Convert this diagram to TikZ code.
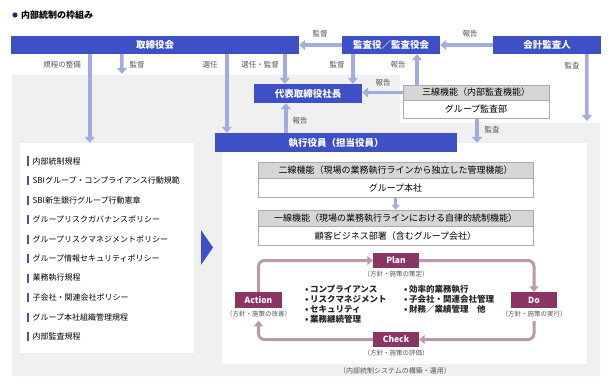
\documentclass[tikz,border=0pt]{standalone}
\usepackage{xcolor}
\usepackage{fontspec}
\setmainfont{Noto Sans CJK JP}
\usepackage{tikz}
\usetikzlibrary{arrows.meta,positioning}

\definecolor{sbiblue}{HTML}{3D50C6}
\definecolor{flowlav}{HTML}{A3ABE3}
\definecolor{bggray}{HTML}{F0F0F0}
\definecolor{headgray}{HTML}{D6D6D6}
\definecolor{pdcapurple}{HTML}{8A3563}
\definecolor{pdcaline}{HTML}{BC98A8}
\definecolor{lblgray}{HTML}{555555}
\definecolor{navy}{HTML}{1F2F70}

\newcommand{\fs}[1]{\fontsize{#1}{#1}\selectfont}

\tikzset{
  bluebox/.style={fill=sbiblue, text=white, inner sep=0pt, font=\fs{9.5}\bfseries},
  headbox/.style={fill=headgray, draw=headgray!80!black, inner sep=0pt, font=\fs{9}},
  bodybox/.style={fill=white, draw=headgray!80!black, inner sep=0pt, font=\fs{9}},
  flow/.style={draw=flowlav, line width=3.5pt, -{Triangle[width=10pt,length=6pt]}},
  lbl/.style={text=lblgray, inner sep=1pt, font=\fs{7.5}},
  pdcabox/.style={fill=pdcapurple, text=white, inner sep=0pt, minimum width=46, minimum height=15, font=\fs{8.5}\bfseries},
  pdcasub/.style={text=lblgray, inner sep=1pt, font=\fs{6.5}},
  cycle/.style={draw=pdcaline, line width=3pt, rounded corners=6pt, -{Triangle[width=9pt,length=5.5pt]}},
  ctrlitems/.style={anchor=north west, align=left, inner sep=0pt, text=black!85, font={\fontsize{8.5}{10}\selectfont\bfseries}},
}

\begin{document}
\begin{tikzpicture}[x=1pt, y=-1pt]
  \useasboundingbox (0,0) rectangle (612,390);

  % Title
  \fill[navy] (15,15) circle (2.6);
  \node[anchor=west, inner sep=0pt, font=\fs{9}\bfseries] (title) at (21,15) {内部統制の枠組み};

  % Backdrop
  \fill[bggray] (12,75) -- (400,75) -- (400,123) -- (600,123) -- (600,376) -- (12,376) -- cycle;
  \node[fill=white, minimum width=174, minimum height=210, inner sep=0pt] (rules) at (107,248) {};
  \node[fill=white, minimum width=365, minimum height=221, inner sep=0pt] (rpanel) at (404.5,253.5) {};

  % Top row
  \node[bluebox, minimum width=288, minimum height=18] (board) at (155,45) {取締役会};
  \node[bluebox, minimum width=98, minimum height=18] (kansa) at (391,45) {監査役／監査役会};
  \node[bluebox, minimum width=108, minimum height=18] (kaikei) at (547,45) {会計監査人};
  \node[bluebox, minimum width=108, minimum height=19] (daihyo) at (308,93.5) {代表取締役社長};
  \node[headbox, minimum width=146, minimum height=15] (sanHead) at (476,92.5) {三線機能（内部監査機能）};
  \node[bodybox, minimum width=146, minimum height=18, anchor=north] (sanBody) at (sanHead.south) {グループ監査部};
  \node[bluebox, minimum width=242, minimum height=19] (shikko) at (336,142.5) {執行役員（担当役員）};

  % Arrows of the top section
  \coordinate (supv) at (122,74);
  \coordinate (audEnd) at (587,121);
  \draw[flow] (kaikei.west) -- (kansa.east);
  \draw[flow] (kansa.west) -- (board.east);
  \draw[flow] ([xshift=79]board.south west) -- ([xshift=70]rules.north west);
  \draw[flow] ([xshift=111]board.south west) -- (supv);
  \draw[flow] ([xshift=216]board.south west) -- ([xshift=12]shikko.north west);
  \draw[flow] ([xshift=274]board.south west) -- ([xshift=274]board.south west |- daihyo.north);
  \draw[flow] ([xshift=11]kansa.south west) -- ([xshift=11]kansa.south west |- daihyo.north);
  \draw[flow] ([xshift=-59]sanHead.north) -- ([xshift=-59]sanHead.north |- kansa.south);
  \draw[flow] (sanHead.west) -- (sanHead.west -| daihyo.east);
  \draw[flow] ([xshift=71]shikko.north west) -- ([xshift=71]shikko.north west |- daihyo.south);
  \draw[flow] ([xshift=94]kaikei.south west) -- (audEnd);
  \draw[flow] ([xshift=1]sanBody.south) -- ([xshift=1]sanBody.south |- rpanel.north);

  % Labels of the top section
  \node[lbl] (lRules) at (62,65) {規程の整備};
  \node[lbl] (lSup1) at (137,65) {監督};
  \node[lbl] (lSel) at (210,65) {選任};
  \node[lbl] (lSelSup) at (260,65) {選任・監督};
  \node[lbl] (lSup2) at (320,34) {監督};
  \node[lbl] (lRep1) at (470,34) {報告};
  \node[lbl] (lSup3) at (337,65) {監督};
  \node[lbl] (lRep2) at (398,65) {報告};
  \node[lbl] (lRep3) at (383,83) {報告};
  \node[lbl] (lRep4) at (300,121) {報告};
  \node[lbl] (lAud1) at (572,66) {監査};
  \node[lbl] (lAud2) at (492,130) {監査};

  % Rules list
  \foreach \txt [count=\i] in {内部統制規程, SBIグループ・コンプライアンス行動規範, SBI新生銀行グループ行動憲章,
      グループリスクガバナンスポリシー, グループリスクマネジメントポリシー, グループ情報セキュリティポリシー,
      業務執行規程, 子会社・関連会社ポリシー, グループ本社組織管理規程, 内部監査規程} {
    \pgfmathsetmacro{\yy}{161+19.5*(\i-1)}
    \fill[sbiblue] (26.5,\yy-4.5) rectangle (29,\yy+4.5);
    \node[anchor=west, inner sep=0pt, font=\fs{8}] (item\i) at (32.5,\yy) {\txt};
  }

  % Big arrow
  \fill[sbiblue] (201,230) -- (213,247.5) -- (201,265) -- cycle;

  % Second and first line functions
  \node[headbox, minimum width=275, minimum height=16] (niHead) at (395.5,170) {二線機能（現場の業務執行ラインから独立した管理機能）};
  \node[bodybox, minimum width=275, minimum height=19, anchor=north] (niBody) at (niHead.south) {グループ本社};
  \node[headbox, minimum width=275, minimum height=16] (ichiHead) at (395.5,218) {一線機能（現場の業務執行ラインにおける自律的統制機能）};
  \node[bodybox, minimum width=275, minimum height=19, anchor=north] (ichiBody) at (ichiHead.south) {顧客ビジネス部署（含むグループ会社）};
  \draw[draw=flowlav, line width=3pt, -{Triangle[width=8pt,length=5pt]}] (niBody.south) -- (ichiHead.north);

  % PDCA cycle
  \node[pdcabox] (plan) at (396,260.5) {Plan};
  \node[pdcabox, minimum width=47, minimum height=16] (action) at (258.5,300) {Action};
  \node[pdcabox, minimum height=16] (do) at (534,300) {Do};
  \node[pdcabox] (check) at (396,339.5) {Check};
  \node[pdcasub, below=2pt of plan] (planSub) {（方針・施策の策定）};
  \node[pdcasub, below=2pt of action] (actionSub) {（方針・施策の改善）};
  \node[pdcasub, below=2pt of do] (doSub) {（方針・施策の実行）};
  \node[pdcasub, below=2pt of check] (checkSub) {（方針・施策の評価）};
  \draw[cycle] (action.north) |- (plan.west);
  \draw[cycle] (plan.east) -| (do.north);
  \draw[cycle] ([yshift=-2]doSub.south) |- (check.east);
  \draw[cycle] (check.west) -| ([yshift=-2]actionSub.south);

  % Items of internal control
  \node[ctrlitems] (itemsL) at (305,285)
    {•\,コンプライアンス\\•\,リスクマネジメント\\•\,セキュリティ\\•\,業務継続管理};
  \node[ctrlitems] (itemsR) at (404,285)
    {•\,効率的業務執行\\•\,子会社・関連会社管理\\•\,財務／業績管理　他};

  % Caption
  \node[pdcasub, font=\fs{7}] (caption) at (395,371) {（内部統制システムの構築・運用）};
\end{tikzpicture}
\end{document}
